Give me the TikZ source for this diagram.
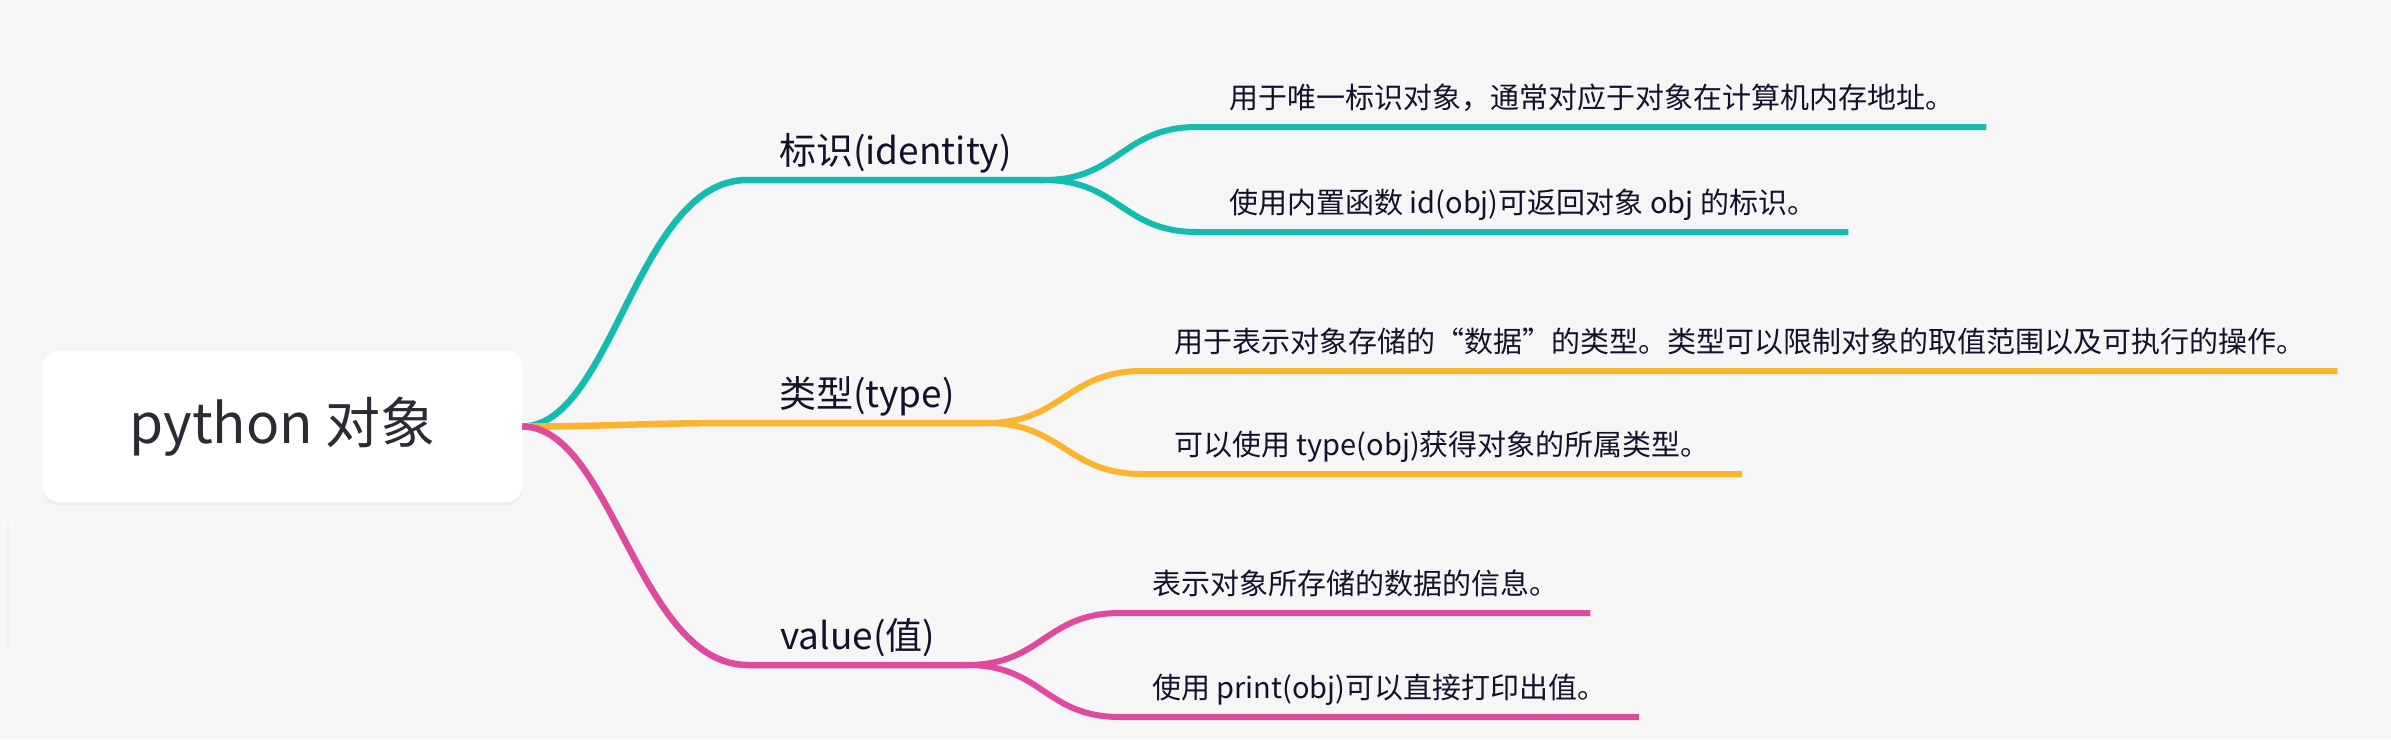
\documentclass[tikz,border=0pt]{standalone}
\usepackage{fontspec}
\setmainfont{Noto Sans CJK SC}
\usetikzlibrary{shadows}
\definecolor{bgcol}{HTML}{F6F6F6}
\definecolor{tealc}{HTML}{13BBB0}
\definecolor{yelc}{HTML}{FCB42F}
\definecolor{pinkc}{HTML}{DF4A9C}
\definecolor{inkc}{HTML}{12122A}
\definecolor{rootink}{HTML}{2A2C34}
\tikzset{
  rootbox/.style={fill=white, rounded corners=15pt, minimum width=479pt, minimum height=151pt,
    text=rootink, font=\fontsize{55}{60}\selectfont,
    drop shadow={opacity=0.07, shadow xshift=0pt, shadow yshift=-3pt}},
  lab/.style={inner xsep=32pt, inner ysep=0pt, text depth=15pt, text=inkc,
    font=\fontsize{37}{44}\selectfont},
  leaf/.style={inner xsep=32pt, inner ysep=0pt, text depth=18pt, text=inkc,
    font=\fontsize{29}{35}\selectfont},
  main/.style={line width=6.5pt},
  twig/.style={line width=6pt},
}
\begin{document}
\begin{tikzpicture}[x=1pt, y=-1pt]
  \fill[bgcol] (0,0) rectangle (2391,739);
  \draw[black!6, line width=2pt] (8,522) -- (8,650);

  \node[rootbox] (root) at (282.5,426.5) {python 对象};

  % first level
  \node[lab, anchor=south west] (ident) at (747,180) {标识(identity)};
  \node[lab, anchor=south west] (typ) at (747,423) {类型(type)};
  \node[lab, anchor=south west] (val) at (748,665) {value(值)};

  % second level
  \node[leaf, anchor=south west] (id1) at (1197,127) {用于唯一标识对象，通常对应于对象在计算机内存地址。};
  \node[leaf, anchor=south west] (id2) at (1197,232) {使用内置函数 id(obj)可返回对象 obj 的标识。};
  \node[leaf, anchor=south west] (ty1) at (1142,371) {用于表示对象存储的“数据”的类型。类型可以限制对象的取值范围以及可执行的操作。};
  \node[leaf, anchor=south west] (ty2) at (1142,474) {可以使用 type(obj)获得对象的所属类型。};
  \node[leaf, anchor=south west] (va1) at (1120,613) {表示对象所存储的数据的信息。};
  \node[leaf, anchor=south west] (va2) at (1120,717) {使用 print(obj)可以直接打印出值。};

  % branches
  \draw[main, tealc] (root.east) .. controls +(90,0) and +(-110,0) .. (ident.south west) -- (ident.south east);
  \draw[main, yelc] (root.east) .. controls +(90,0) and +(-110,0) .. (typ.south west) -- (typ.south east);
  \draw[main, pinkc] (root.east) .. controls +(90,0) and +(-110,0) .. (val.south west) -- (val.south east);

  \draw[twig, tealc] (ident.south east) .. controls +(75,0) and +(-75,0) .. (id1.south west) -- (id1.south east);
  \draw[twig, tealc] (ident.south east) .. controls +(75,0) and +(-75,0) .. (id2.south west) -- (id2.south east);
  \draw[twig, yelc] (typ.south east) .. controls +(75,0) and +(-75,0) .. (ty1.south west) -- (ty1.south east);
  \draw[twig, yelc] (typ.south east) .. controls +(75,0) and +(-75,0) .. (ty2.south west) -- (ty2.south east);
  \draw[twig, pinkc] (val.south east) .. controls +(75,0) and +(-75,0) .. (va1.south west) -- (va1.south east);
  \draw[twig, pinkc] (val.south east) .. controls +(75,0) and +(-75,0) .. (va2.south west) -- (va2.south east);
\end{tikzpicture}
\end{document}
